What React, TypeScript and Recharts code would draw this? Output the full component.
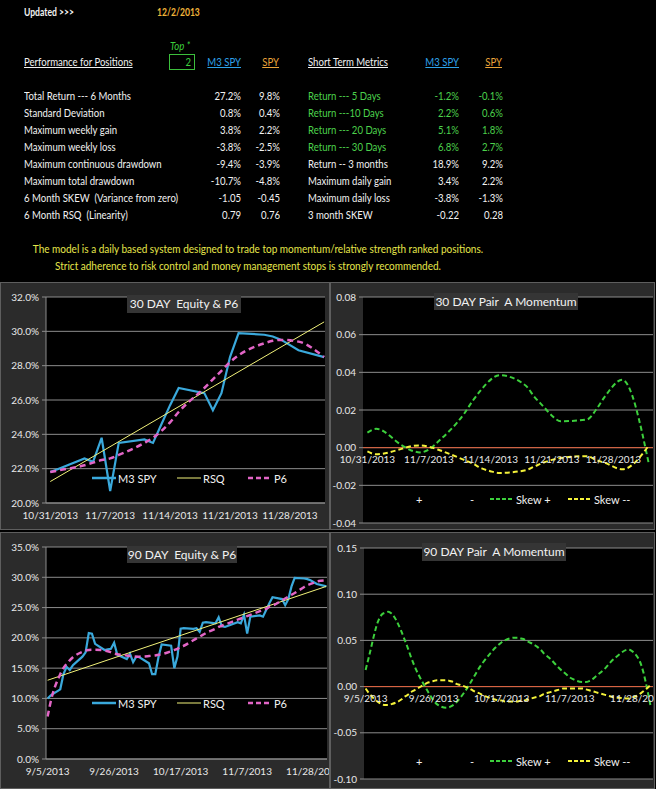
import React from 'react';
import { LineChart, Line, XAxis, YAxis, CartesianGrid, ReferenceLine } from 'recharts';

const FONT = 'Lato, "Noto Sans", sans-serif';
const GRID = '#8c8c8c';
const TXT = '#e8e8e8';

const updatedDate = '12/2/2013';
const topPositions = '2';

const perfLabels = [
  'Total Return --- 6 Months',
  'Standard Deviation',
  'Maximum weekly gain',
  'Maximum weekly loss',
  'Maximum continuous drawdown',
  'Maximum total drawdown',
  '6 Month SKEW  (Variance from zero)',
  '6 Month RSQ  (Linearity)',
];
const perfM3 = ['27.2%', '0.8%', '3.8%', '-3.8%', '-9.4%', '-10.7%', '-1.05', '0.79'];
const perfSpy = ['9.8%', '0.4%', '2.2%', '-2.5%', '-3.9%', '-4.8%', '-0.45', '0.76'];

const shortLabels = [
  'Return --- 5 Days',
  'Return ---10 Days',
  'Return --- 20 Days',
  'Return --- 30 Days',
  'Return -- 3 months',
  'Maximum daily gain',
  'Maximum daily loss',
  '3 month SKEW',
];
const shortM3 = ['-1.2%', '2.2%', '5.1%', '6.8%', '18.9%', '3.4%', '-3.8%', '-0.22'];
const shortSpy = ['-0.1%', '0.6%', '1.8%', '2.7%', '9.2%', '2.2%', '-1.3%', '0.28'];
const shortGreenRows = 4;

const noteLines = [
  'The model is a daily based system designed to trade top momentum/relative strength ranked positions.',
  'Strict adherence to risk control and money management stops is strongly recommended.',
];

// 30 day window, trading days counted from 10/31/2013
const days30 = [0, 1, 4, 5, 6, 7, 8, 11, 12, 13, 14, 15, 18, 19, 20, 21, 22, 25, 26, 27, 29, 32];
const ticks30 = [0, 7, 14, 21, 28];
const tickLabels30 = ['10/31/2013', '11/7/2013', '11/14/2013', '11/21/2013', '11/28/2013'];
const equity30 = [21.8, 22.0, 22.6, 22.4, 23.8, 20.7, 23.5, 23.7, 23.5, 24.6, 25.7, 26.7, 26.4, 25.4, 26.4, 28.5, 29.9, 29.8, 29.7, 29.5, 28.9, 28.5];
const p6_30 = [21.8, 21.9, 22.2, 22.35, 22.5, 22.6, 22.8, 23.5, 23.8, 24.2, 24.7, 25.3, 26.7, 27.2, 27.7, 28.2, 28.6, 29.3, 29.45, 29.5, 29.4, 28.5];
const rsqEnds30 = [21.25, 30.55];
const skewPlus30 = [0.008, 0.01, 0.001, -0.0015, -0.0025, -0.001, 0.003, 0.018, 0.025, 0.031, 0.036, 0.0385, 0.033, 0.027, 0.022, 0.017, 0.014, 0.015, 0.02, 0.027, 0.036, -0.008];
const skewMinus30 = [-0.002, -0.0035, -0.0005, 0.0008, 0.0012, 0.0005, -0.001, -0.0065, -0.0085, -0.011, -0.0125, -0.0134, -0.012, -0.01, -0.008, -0.0065, -0.0055, -0.0045, -0.0065, -0.008, -0.0115, 0.001];

// 90 day window, trading days counted from 9/5/2013
const days90 = [
  0, 1, 4, 5, 6, 7, 8, 11, 12, 13, 14, 15, 18, 19, 20, 21, 22, 25,
  26, 27, 28, 29, 32, 33, 34, 35, 36, 39, 40, 41, 42, 43, 46, 47, 48, 49, 50, 53, 54, 55, 56,
  57, 60, 61, 62, 63, 64, 67, 68, 69, 70, 71, 74, 75, 76, 77, 78, 81, 82, 83, 85, 88,
];
const ticks90 = [0, 21, 42, 63, 84];
// last label is shown cut short at the panel edge
const tickLabels90 = ['9/5/2013', '9/26/2013', '10/17/2013', '11/7/2013', '11/28/20'];
const equity90 = [
  10.0, 10.5, 11.5, 14.0, 15.2, 14.7, 15.5, 16.9, 17.6, 20.8, 20.7, 19.0, 18.0, 18.1, 18.2, 19.2, 17.2, 16.5,
  17.4, 16.0, 16.9, 16.8, 15.8, 14.0, 14.0, 16.8, 18.9, 18.7, 15.0, 16.9, 21.5, 21.6, 21.5, 21.6, 21.0, 22.5, 22.6, 22.4, 23.4, 21.9, 21.8,
  22.0, 22.6, 22.4, 23.8, 20.7, 23.5, 23.7, 23.5, 24.6, 25.7, 26.7, 26.4, 25.4, 26.4, 28.5, 29.9, 29.8, 29.7, 29.5, 28.9, 28.5,
];
const p6_90 = [
  7.0, 9.5, 14.0, 15.0, 15.7, 16.3, 16.8, 17.7, 17.9, 18.0, 18.05, 18.05, 17.9, 17.8, 17.6, 17.4, 17.3, 17.1,
  17.0, 16.95, 16.9, 16.9, 17.0, 17.05, 17.1, 17.2, 17.3, 17.8, 18.0, 18.2, 18.5, 18.7, 19.6, 19.9, 20.2, 20.5, 20.8, 21.5, 21.8, 22.0, 22.2,
  22.4, 23.0, 23.2, 23.4, 23.6, 23.8, 24.4, 24.6, 24.8, 25.1, 25.3, 26.2, 26.5, 26.8, 27.1, 27.4, 28.4, 28.7, 28.9, 29.3, 29.5,
];
const rsqEnds90 = [13.0, 28.5];
const skewPlus90 = [
  0.018, 0.032, 0.072, 0.078, 0.08, 0.081, 0.079, 0.06, 0.051, 0.042, 0.032, 0.023, 0.002, -0.004, -0.01, -0.015, -0.019, -0.023,
  -0.022, -0.02, -0.017, -0.013, 0.002, 0.008, 0.014, 0.02, 0.025, 0.038, 0.042, 0.045, 0.048, 0.05, 0.053, 0.053, 0.052, 0.051, 0.049, 0.043, 0.04, 0.036, 0.033,
  0.03, 0.019, 0.016, 0.013, 0.01, 0.008, 0.005, 0.005, 0.006, 0.008, 0.011, 0.02, 0.024, 0.028, 0.031, 0.034, 0.04, 0.039, 0.036, 0.024, -0.022,
];
const skewMinus90 = [
  -0.002, -0.007, -0.017, -0.019, -0.02, -0.02, -0.019, -0.014, -0.011, -0.009, -0.006, -0.004, 0.002, 0.004, 0.005, 0.006, 0.007, 0.007,
  0.006, 0.005, 0.003, 0.002, -0.002, -0.004, -0.006, -0.007, -0.009, -0.013, -0.014, -0.015, -0.015, -0.016, -0.016, -0.016, -0.015, -0.015, -0.014, -0.011, -0.01, -0.008, -0.007,
  -0.006, -0.003, -0.002, -0.002, -0.002, -0.002, -0.002, -0.003, -0.004, -0.005, -0.006, -0.009, -0.01, -0.011, -0.012, -0.012, -0.013, -0.012, -0.011, -0.007, 0.002,
];

const BLUE = '#3aa9dc';
const PINK = '#e265c6';
const RSQ = '#f2f27a';
const GREEN = '#3ccf3c';
const YELLOW = '#f4f23a';

const panelStyle: React.CSSProperties = {
  position: 'absolute',
  background: '#2b2b2b',
  border: '1px solid #5e5e5e',
  boxSizing: 'border-box',
  overflow: 'hidden',
};

function TitleBox({ text, left, top, width, height }) {
  return (
    <div
      style={{
        position: 'absolute', left, top, width, height, background: '#353535', color: '#f2f2f2',
        fontFamily: FONT, fontSize: 12, lineHeight: height + 'px', textAlign: 'center', whiteSpace: 'pre',
      }}
    >
      {text}
    </div>
  );
}

function Sample({ color, width, dash }) {
  return (
    <svg width={24} height={8} style={{ display: 'block' }}>
      <line x1={0} y1={4} x2={24} y2={4} stroke={color} strokeWidth={width} strokeDasharray={dash} />
    </svg>
  );
}

function LegendRow({ top, items }) {
  return (
    <>
      {items.map((it) => (
        <div
          key={it.label}
          style={{
            position: 'absolute', left: it.left, top: top - 8, height: 16, display: 'flex', alignItems: 'center',
            gap: 2, color: '#f0f0f0', fontFamily: FONT, fontSize: 11, whiteSpace: 'pre',
          }}
        >
          {it.color ? <Sample color={it.color} width={it.width} dash={it.dash} /> : null}
          <span>{it.label}</span>
        </div>
      ))}
    </>
  );
}

// keeps a centred tick label from running past the right edge of the chart
const clampX = (x, maxX) => Math.min(x, maxX);

function EquityPanel({ left, top, width, height, margin, xAxisHeight, xDomain, yDomain, yTicks, days, ticks, tickLabels, equity, p6, rsqEnds, title, titleBox, legendTop }) {
  const last = days.length - 1;
  const data = days.map((day, i) => ({
    day,
    m3: equity[i],
    p6: p6[i],
    rsq: i === 0 ? rsqEnds[0] : i === last ? rsqEnds[1] : null,
  }));
  const labelFor = (v) => tickLabels[ticks.indexOf(v)] ?? '';
  const DateTick = ({ x, y, payload }) => (
    <text x={clampX(x, width - 22)} y={y + 16} textAnchor="middle" fill={TXT} fontSize={10} fontFamily={FONT}>
      {labelFor(payload.value)}
    </text>
  );
  return (
    <div style={{ ...panelStyle, left, top, width, height }}>
      <div style={{ position: 'absolute', left: -1, top: -1 }}>
        <LineChart width={width} height={height} data={data} margin={margin}>
          <CartesianGrid vertical={false} fill="#000" stroke={GRID} />
          <XAxis
            type="number" dataKey="day" domain={xDomain} ticks={ticks}
            allowDataOverflow interval={0} height={xAxisHeight} stroke={GRID} tickLine={false} tickSize={0} tickMargin={0}
            tick={DateTick}
          />
          <YAxis
            domain={yDomain} ticks={yTicks} interval={0} width={margin.left0} stroke={GRID} tickSize={4} tickMargin={3}
            tickFormatter={(v) => v.toFixed(1) + '%'} tick={{ fill: TXT, fontSize: 10, fontFamily: FONT }}
          />
          <Line dataKey="m3" type="linear" stroke={BLUE} strokeWidth={2.2} dot={false} isAnimationActive={false} />
          <Line dataKey="rsq" type="linear" stroke={RSQ} strokeWidth={1} dot={false} connectNulls isAnimationActive={false} />
          <Line dataKey="p6" type="monotone" stroke={PINK} strokeWidth={2.5} strokeDasharray="6 4" dot={false} isAnimationActive={false} />
        </LineChart>
      </div>
      <TitleBox text={title} {...titleBox} />
      <LegendRow
        top={legendTop}
        items={[
          { left: 91, label: 'M3 SPY', color: BLUE, width: 2.5 },
          { left: 176, label: 'RSQ', color: RSQ, width: 1 },
          { left: 247, label: 'P6', color: PINK, width: 2.5, dash: '5 3' },
        ]}
      />
    </div>
  );
}

function MomentumPanel({ left, top, width, height, margin, xAxisHeight, xDomain, yDomain, yTicks, days, ticks, tickLabels, plus, minus, title, titleBox, legendTop }) {
  const data = days.map((day, i) => ({ day, plus: plus[i], minus: minus[i] }));
  const labelFor = (v) => tickLabels[ticks.indexOf(v)] ?? '';
  const plotH = height - margin.top - margin.bottom - xAxisHeight;
  const zeroUp = ((0 - yDomain[0]) / (yDomain[1] - yDomain[0])) * plotH;
  const ZeroTick = ({ x, y, payload }) => (
    <text x={clampX(x, width - 23)} y={y - zeroUp + 15} textAnchor="middle" fill={TXT} fontSize={10} fontFamily={FONT}>
      {labelFor(payload.value)}
    </text>
  );
  return (
    <div style={{ ...panelStyle, left, top, width, height }}>
      <div style={{ position: 'absolute', left: -1, top: -1 }}>
        <LineChart width={width} height={height} data={data} margin={margin}>
          <CartesianGrid vertical={false} fill="#000" stroke={GRID} />
          <XAxis
            type="number" dataKey="day" domain={xDomain} ticks={ticks} allowDataOverflow interval={0}
            height={xAxisHeight} axisLine={false} tickLine={false} tickSize={0} tickMargin={0} tick={ZeroTick}
          />
          <YAxis
            domain={yDomain} ticks={yTicks} interval={0} width={margin.left0} axisLine={false} stroke={GRID}
            tickSize={4} tickMargin={3} tickFormatter={(v) => v.toFixed(2)}
            tick={{ fill: TXT, fontSize: 10, fontFamily: FONT }}
          />
          <ReferenceLine y={0} stroke="#e0603c" strokeWidth={1} />
          <Line dataKey="plus" type="monotone" stroke={GREEN} strokeWidth={2} strokeDasharray="5 3" dot={false} isAnimationActive={false} />
          <Line dataKey="minus" type="monotone" stroke={YELLOW} strokeWidth={2} strokeDasharray="5 3" dot={false} isAnimationActive={false} />
        </LineChart>
      </div>
      <TitleBox text={title} {...titleBox} />
      <LegendRow
        top={legendTop}
        items={[
          { left: 85, label: '+' },
          { left: 139, label: '-' },
          { left: 159, label: 'Skew +', color: GREEN, width: 2, dash: '4 2' },
          { left: 237, label: 'Skew --', color: YELLOW, width: 2, dash: '4 2' },
        ]}
      />
    </div>
  );
}

const textBase: React.CSSProperties = {
  position: 'absolute', fontFamily: FONT, fontSize: 11, lineHeight: '14px', color: '#f2f2f2', whiteSpace: 'pre',
};

// the sheet's font is narrower than Lato, so text is squeezed horizontally
function Cell({ x, y, text, color = '#f2f2f2', align = 'left', squeeze = 0.87, style = {} }) {
  const pos =
    align === 'right'
      ? { left: x - 100, width: 100, textAlign: 'right' as const, transformOrigin: 'right center' }
      : align === 'center'
        ? { left: x - 300, width: 600, textAlign: 'center' as const, transformOrigin: 'center center' }
        : { left: x, transformOrigin: 'left center' };
  return (
    <div style={{ ...textBase, ...pos, top: y - 7, color, transform: `scaleX(${squeeze})`, ...style }}>{text}</div>
  );
}

export default function App() {
  const rowY = perfLabels.map((_, i) => 96 + i * 17);
  const under = { textDecoration: 'underline' };
  const bold = { fontWeight: 700 };
  return (
    <div style={{ position: 'absolute', left: 0, top: 0, width: 656, height: 789, background: '#000', overflow: 'hidden' }}>
      <Cell x={24} y={12} text="Updated >>>" style={bold} squeeze={0.78} />
      <Cell x={157} y={12} text={updatedDate} color="#f0b43a" style={bold} squeeze={0.78} />

      <Cell x={170} y={46} text="Top *" color={GREEN} style={{ fontStyle: 'italic' }} />
      <div style={{ position: 'absolute', left: 169, top: 54, width: 26, height: 16, border: '1px solid #3cbf3c', boxSizing: 'border-box' }} />
      <Cell x={191} y={62} text={topPositions} color={GREEN} align="right" />

      <Cell x={24} y={62} text="Performance for Positions" style={under} />
      <Cell x={241} y={62} text="M3 SPY" color="#2ea3ea" align="right" style={under} />
      <Cell x={279} y={62} text="SPY" color="#eaa53a" align="right" style={under} />
      <Cell x={308} y={62} text="Short Term Metrics" style={under} />
      <Cell x={459} y={62} text="M3 SPY" color="#2ea3ea" align="right" style={under} />
      <Cell x={502} y={62} text="SPY" color="#eaa53a" align="right" style={under} />

      {perfLabels.map((label, i) => (
        <React.Fragment key={label}>
          <Cell x={24} y={rowY[i]} text={label} />
          <Cell x={241} y={rowY[i]} text={perfM3[i]} align="right" />
          <Cell x={280} y={rowY[i]} text={perfSpy[i]} align="right" />
        </React.Fragment>
      ))}
      {shortLabels.map((label, i) => {
        const c = i < shortGreenRows ? '#4cd24c' : '#f2f2f2';
        return (
          <React.Fragment key={label}>
            <Cell x={308} y={rowY[i]} text={label} color={c} />
            <Cell x={459} y={rowY[i]} text={shortM3[i]} color={c} align="right" />
            <Cell x={503} y={rowY[i]} text={shortSpy[i]} color={c} align="right" />
          </React.Fragment>
        );
      })}

      <Cell x={258} y={249} text={noteLines[0]} color="#e6e64a" align="center" squeeze={0.91} />
      <Cell x={248} y={266} text={noteLines[1]} color="#e6e64a" align="center" squeeze={0.91} />

      <EquityPanel
        left={0} top={282} width={330} height={248}
        margin={{ top: 15, right: 5, bottom: 0, left: 0, left0: 46 }} xAxisHeight={27}
        xDomain={[-0.5, 32.1]} yDomain={[20, 32]} yTicks={[20, 22, 24, 26, 28, 30, 32]}
        days={days30} ticks={ticks30} tickLabels={tickLabels30}
        equity={equity30} p6={p6_30} rsqEnds={rsqEnds30}
        title={'30 DAY  Equity & P6'} titleBox={{ left: 126, top: 12, width: 114, height: 18 }} legendTop={195}
      />
      <MomentumPanel
        left={330} top={282} width={325} height={248}
        margin={{ top: 15, right: 2, bottom: 0, left: 0, left0: 33 }} xAxisHeight={7}
        xDomain={[-0.5, 32.5]} yDomain={[-0.04, 0.08]} yTicks={[-0.04, -0.02, 0, 0.02, 0.04, 0.06, 0.08]}
        days={days30} ticks={ticks30} tickLabels={tickLabels30} plus={skewPlus30} minus={skewMinus30}
        title={'30 DAY Pair  A Momentum'} titleBox={{ left: 103, top: 10, width: 144, height: 17 }} legendTop={216}
      />
      <EquityPanel
        left={0} top={532} width={330} height={257}
        margin={{ top: 15, right: 3, bottom: 0, left: 0, left0: 46 }} xAxisHeight={30}
        xDomain={[-0.5, 88.2]} yDomain={[0, 35]} yTicks={[0, 5, 10, 15, 20, 25, 30, 35]}
        days={days90} ticks={ticks90} tickLabels={tickLabels90}
        equity={equity90} p6={p6_90} rsqEnds={rsqEnds90}
        title={'90 DAY  Equity & P6'} titleBox={{ left: 126, top: 13, width: 110, height: 17 }} legendTop={170}
      />
      <MomentumPanel
        left={330} top={532} width={325} height={257}
        margin={{ top: 16, right: 2, bottom: 0, left: 0, left0: 34 }} xAxisHeight={10}
        xDomain={[-0.5, 88.7]} yDomain={[-0.1, 0.15]} yTicks={[-0.1, -0.05, 0, 0.05, 0.1, 0.15]}
        days={days90} ticks={ticks90} tickLabels={tickLabels90} plus={skewPlus90} minus={skewMinus90}
        title={'90 DAY Pair  A Momentum'} titleBox={{ left: 91, top: 10, width: 144, height: 18 }} legendTop={228}
      />
    </div>
  );
}
